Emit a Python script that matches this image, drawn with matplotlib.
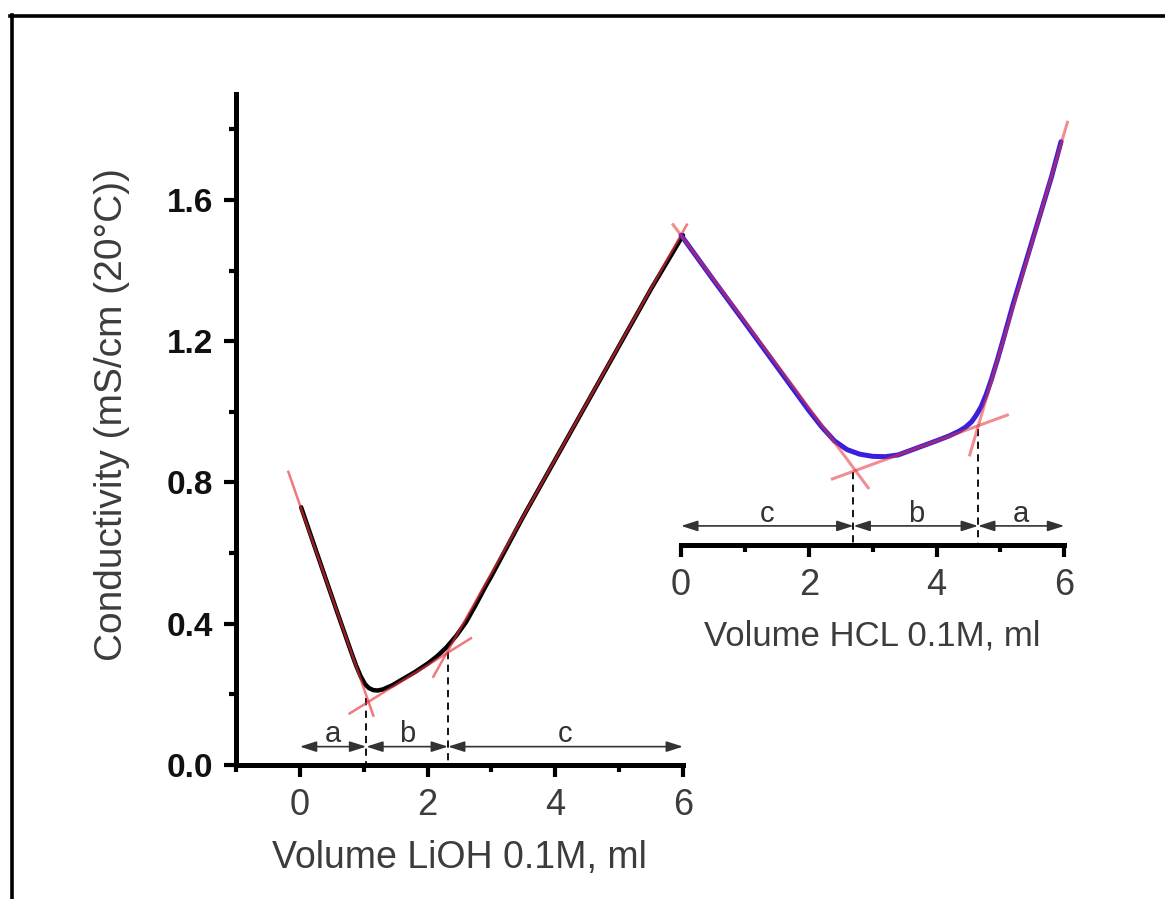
import matplotlib
matplotlib.use("Agg")
import matplotlib.pyplot as plt
from matplotlib.ticker import MultipleLocator, FormatStrFormatter
from matplotlib.lines import Line2D

plt.rcParams['font.family'] = ['Liberation Sans', 'DejaVu Sans']

# ---- data -------------------------------------------------------------
lioh_vol = [0.02, 0.2, 0.4, 0.6, 0.8, 0.88, 0.95, 1.02, 1.08, 1.15, 1.22,
            1.3, 1.45, 1.6, 1.8, 2.0, 2.15, 2.3, 2.45, 2.6, 2.75, 2.9, 3.0,
            3.5, 4.0, 4.5, 5.0, 5.5, 6.0]
lioh_cond = [0.73, 0.635, 0.53, 0.425, 0.322, 0.282, 0.252, 0.229, 0.218,
             0.212, 0.211, 0.214, 0.226, 0.242, 0.263, 0.287, 0.308, 0.334,
             0.366, 0.404, 0.452, 0.503, 0.535, 0.704, 0.865, 1.026, 1.187,
             1.348, 1.5]

hcl_vol = [0.0, 0.5, 1.0, 1.5, 2.0, 2.2, 2.4, 2.6, 2.8, 3.0, 3.2, 3.4, 3.7,
           4.0, 4.2, 4.35, 4.45, 4.55, 4.62, 4.7, 4.78, 4.86, 4.95, 5.05,
           5.2, 5.4, 5.6, 5.8, 5.95]
hcl_cond = [1.50, 1.375, 1.252, 1.128, 1.004, 0.958, 0.918, 0.893, 0.88,
            0.874, 0.873, 0.878, 0.898, 0.918, 0.932, 0.945, 0.956, 0.972,
            0.99, 1.015, 1.05, 1.092, 1.145, 1.208, 1.305, 1.425, 1.545,
            1.665, 1.765]

lioh_tan_x = [[-0.18, 1.15], [0.78, 2.68], [2.09, 6.06]]
lioh_tan_y = [[0.83, 0.14], [0.146, 0.359], [0.25, 1.53]]
hcl_tan_x = [[-0.125, 2.93], [2.37, 5.11], [4.52, 6.05]]
hcl_tan_y = [[1.53, 0.785], [0.81, 0.991], [0.878, 1.82]]

lioh_eq_x = [1.04, 2.32]
lioh_eq_y = [0.19, 0.32]
hcl_eq_x = [2.70, 4.65]
hcl_eq_y = [0.831, 0.951]

lioh_seg_labels = ['a', 'b', 'c']
hcl_seg_labels = ['c', 'b', 'a']

main_xticks = [0, 2, 4, 6]
main_yticks = [0.0, 0.4, 0.8, 1.2, 1.6]
inset_xticks = [0, 2, 4, 6]

main_ylim = (0.0, 1.9)
main_xlim = (-1.0, 6.0)
inset_ybase = 0.623      # conductivity level of the HCL axis
inset_xlim = (0.0, 6.0)

# ---- figure -----------------------------------------------------------
W, H = 1165, 899
fig = plt.figure(figsize=(W / 100, H / 100), dpi=100)

L = 236 / W
R = 683 / W
B = 1 - 765 / H
T = 1 - 94 / H
ax = fig.add_axes([L, B, R - L, T - B])
ax.set_xlim(*main_xlim)
ax.set_ylim(*main_ylim)

x_per_unit = (R - L) / (main_xlim[1] - main_xlim[0])
y_per_unit = (T - B) / (main_ylim[1] - main_ylim[0])
iL = L + (5.97 - main_xlim[0]) * x_per_unit
iB = B + (inset_ybase - main_ylim[0]) * y_per_unit
ax2 = fig.add_axes([iL, iB, 6 * x_per_unit, T - iB])
ax2.set_xlim(*inset_xlim)
ax2.set_ylim(inset_ybase, main_ylim[1])
ax2.patch.set_alpha(0)

spine_lw = 3.6
dark = '#3c3c3c'
for a in (ax, ax2):
    for s in ('top', 'right'):
        a.spines[s].set_visible(False)
    a.spines['bottom'].set_linewidth(spine_lw)
    a.spines['bottom'].set_capstyle('projecting')
ax.spines['left'].set_linewidth(spine_lw)
ax.spines['left'].set_capstyle('projecting')
ax2.spines['left'].set_visible(False)
ax2.tick_params(axis='y', left=False, labelleft=False)

ax.xaxis.set_major_locator(plt.FixedLocator(main_xticks))
ax.xaxis.set_minor_locator(MultipleLocator(1))
ax.yaxis.set_major_locator(plt.FixedLocator(main_yticks))
ax.yaxis.set_minor_locator(MultipleLocator(0.2))
ax.yaxis.set_major_formatter(FormatStrFormatter('%.1f'))
ax.tick_params(which='major', length=8.5, width=3, direction='out', pad=8)
ax.tick_params(which='minor', length=5, width=3, direction='out')
ax.tick_params(axis='x', labelsize=26, labelcolor=dark)
ax.tick_params(axis='y', labelsize=24)
for lab in ax.get_yticklabels():
    lab.set_fontweight('bold')
    lab.set_color('#111111')

ax2.xaxis.set_major_locator(plt.FixedLocator(inset_xticks))
ax2.xaxis.set_minor_locator(MultipleLocator(1))
ax2.tick_params(which='major', length=8.5, width=3, direction='out', pad=8)
ax2.tick_params(which='minor', length=5, width=3, direction='out')
ax2.tick_params(axis='x', labelsize=26, labelcolor=dark)

ax.set_xlabel('Volume LiOH 0.1M, ml', fontsize=27, color=dark, labelpad=12)
ax2.set_xlabel('Volume HCL 0.1M, ml', fontsize=25, color=dark, labelpad=12)
fig.text(112 / W, 1 - 415 / H, 'Conductivity (mS/cm (20°C))', rotation=90,
         ha='center', va='center', fontsize=28, color=dark)

# curves
ax.plot(lioh_vol, lioh_cond, color='black', lw=3.2, solid_capstyle='round',
        solid_joinstyle='round', zorder=3, clip_on=False)
ax2.plot(hcl_vol, hcl_cond, color='#3a1fdc', lw=3.6, solid_capstyle='round',
         solid_joinstyle='round', zorder=3, clip_on=False)

red = '#e8303a'
for xs, ys in zip(lioh_tan_x, lioh_tan_y):
    ax.plot(xs, ys, color=red, lw=1.8, alpha=0.65, zorder=4, clip_on=False)
for xs, ys in zip(hcl_tan_x, hcl_tan_y):
    ax2.plot(xs, ys, color=red, lw=2.2, alpha=0.55, zorder=4, clip_on=False)

# dashed verticals
for x, y in zip(lioh_eq_x, lioh_eq_y):
    ax.plot([x, x], [y, main_ylim[0]], color='black', lw=1.3,
            dashes=(4, 3), zorder=2)
for x, y in zip(hcl_eq_x, hcl_eq_y):
    ax2.plot([x, x], [y, inset_ybase], color='black', lw=1.3,
             dashes=(4, 3), zorder=2, clip_on=False)

# arrows with labels
arrow_style = dict(arrowstyle='<|-|>,head_length=0.5,head_width=0.16',
                   color='#333333', lw=1.2, shrinkA=0, shrinkB=0,
                   mutation_scale=20)


def seg_arrows(a, bounds, labels, y, ty):
    for i, lab in enumerate(labels):
        x0, x1 = bounds[i], bounds[i + 1]
        a.annotate('', xy=(x1, y), xytext=(x0, y), arrowprops=arrow_style,
                   annotation_clip=False)
        a.text((x0 + x1) / 2, ty, lab, ha='center', va='baseline',
               fontsize=21, color='#333333', clip_on=False)


seg_arrows(ax, [0] + lioh_eq_x + [6], lioh_seg_labels, 0.052, 0.066)
seg_arrows(ax2, [0] + hcl_eq_x + [6], hcl_seg_labels, 0.677, 0.688)

# outer frame (top and left)
fig.add_artist(Line2D([10 / W, 1], [1 - 15.5 / H, 1 - 15.5 / H],
                      transform=fig.transFigure, color='black', lw=2.6))
fig.add_artist(Line2D([11.5 / W, 11.5 / W], [0, 1 - 14.5 / H],
                      transform=fig.transFigure, color='black', lw=2.6))

fig.savefig('out.png', dpi=100)
